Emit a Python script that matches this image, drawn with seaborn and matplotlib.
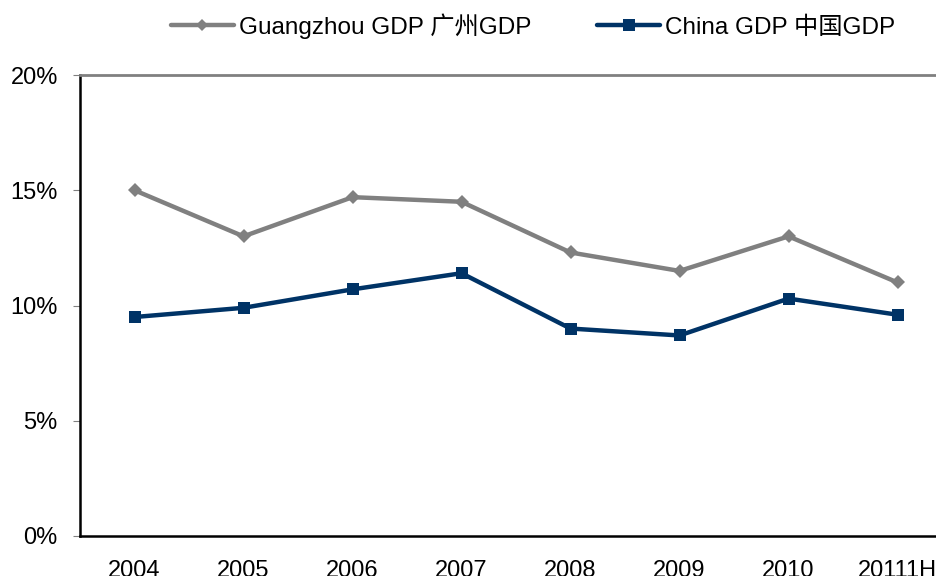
import matplotlib
matplotlib.use("Agg")
import matplotlib.pyplot as plt
import seaborn as sns
import pandas as pd
import numpy as np
from matplotlib.lines import Line2D

years = ["2004", "2005", "2006", "2007", "2008", "2009", "2010", "20111H"]
guangzhou = [15.0, 13.0, 14.7, 14.5, 12.3, 11.5, 13.0, 11.0]
china = [9.5, 9.9, 10.7, 11.4, 9.0, 8.7, 10.3, 9.6]
series_names = ["Guangzhou GDP 广州GDP", "China GDP 中国GDP"]
y_ticks = [0, 5, 10, 15, 20]

sns.set_theme(style="white")
plt.rcParams['font.family'] = ['Liberation Sans', 'Noto Sans CJK SC', 'DejaVu Sans']
plt.rcParams['text.color'] = 'black'
plt.rcParams['xtick.color'] = 'black'
plt.rcParams['ytick.color'] = 'black'
plt.rcParams['xtick.labelcolor'] = 'black'
plt.rcParams['ytick.labelcolor'] = 'black'

df = pd.DataFrame({
    "idx": list(range(len(years))) * 2,
    "value": guangzhou + china,
    "series": [series_names[0]] * len(years) + [series_names[1]] * len(years),
})

fig = plt.figure(figsize=(9.36, 5.76), dpi=100)
ax = fig.add_axes([80/936, 40/576, 872/936, 461/576])

palette = {series_names[0]: "#808080", series_names[1]: "#003366"}
markers = {series_names[0]: "D", series_names[1]: "s"}
sns.lineplot(data=df, x="idx", y="value", hue="series", style="series",
             palette=palette, markers=markers, dashes=False, linewidth=3.2,
             markersize=9, markeredgewidth=0, ax=ax, legend=False)
for line, ms in zip(ax.lines, [7, 9]):
    line.set_markersize(ms)

ax.set_xlim(-0.5, len(years) - 0.5)
ax.set_ylim(0, 20)
ax.set_yticks(y_ticks)
ax.set_yticklabels([f"{v}%" for v in y_ticks], fontsize=17, color="black")
ax.set_xticks(np.arange(len(years)))
ax.set_xticklabels(years, fontsize=17, color="black")
ax.set_xticks(np.arange(len(years) - 1) + 0.5, minor=True)
ax.tick_params(axis="x", which="major", length=0, pad=17)
ax.tick_params(axis="x", which="minor", direction="in", length=8, width=0.8, color="#808080")
ax.tick_params(axis="y", which="major", direction="out", length=5, width=0.8, color="#808080", pad=11, left=True)
ax.set_xlabel("")
ax.set_ylabel("")

for s in ["left", "bottom"]:
    ax.spines[s].set_color("black")
    ax.spines[s].set_linewidth(1.8)
ax.spines["top"].set_color("#808080")
ax.spines["top"].set_linewidth(2)
ax.spines["right"].set_visible(False)

handles = [
    Line2D([], [], color="#808080", lw=3.2, marker="D", markersize=6, markeredgewidth=0),
    Line2D([], [], color="#003366", lw=3.2, marker="s", markersize=8, markeredgewidth=0),
]
fig.legend(handles, series_names, loc="center", bbox_to_anchor=(533/936, 1 - 26/576),
           ncol=2, frameon=False, fontsize=17.5, handlelength=2.6, handletextpad=0.2,
           columnspacing=2.7, labelcolor="black")

fig.savefig("out.png", dpi=100)
